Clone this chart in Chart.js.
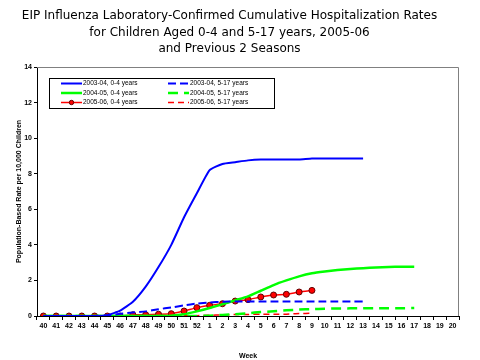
<!DOCTYPE html>
<html>
<head>
<meta charset="utf-8">
<script src="https://cdn.jsdelivr.net/npm/chart.js@4.4.1/dist/chart.umd.min.js"></script>
<style>
  html, body { margin: 0; padding: 0; background: #fff; }
  #wrap { width: 480px; height: 360px; }
</style>
</head>
<body>
<div id="wrap"><canvas id="c" width="480" height="360"></canvas></div>
<script>
'use strict';

var weeks = ['40', '41', '42', '43', '44', '45', '46', '47', '48', '49', '50', '51', '52',
    '1', '2', '3', '4', '5', '6', '7', '8', '9', '10', '11', '12', '13', '14', '15', '16', '17', '18', '19', '20'];

var yTicks = [0, 2, 4, 6, 8, 10, 12, 14];

// 2003-04 season
var s0304Young = [0, 0, 0, 0, 0, 0.05, 0.3, 0.8, 1.65, 2.75, 4.0, 5.55, 6.9,
    8.2, 8.55, 8.65, 8.75, 8.8, 8.8, 8.8, 8.8, 8.85, 8.85, 8.85, 8.85, 8.85];
var s0304Old = [0, 0, 0, 0, 0, 0.03, 0.12, 0.2, 0.26, 0.38, 0.48, 0.6, 0.7,
    0.76, 0.8, 0.82, 0.82, 0.82, 0.82, 0.82, 0.82, 0.82, 0.82, 0.82, 0.82, 0.82];

// 2004-05 season
var s0405Young = [0, 0, 0, 0, 0, 0, 0, 0, 0, 0, 0.02, 0.1, 0.26,
    0.45, 0.66, 0.88, 1.1, 1.42, 1.74, 2.0, 2.23, 2.4, 2.5, 2.58, 2.64, 2.69, 2.73, 2.76, 2.77, 2.77];
var s0405Old = [0, 0, 0, 0, 0, 0, 0, 0, 0, 0, 0, 0, 0,
    0.02, 0.06, 0.1, 0.16, 0.22, 0.27, 0.32, 0.36, 0.39, 0.41, 0.42, 0.43, 0.43, 0.44, 0.44, 0.44, 0.45];

// 2005-06 season
var s0506Young = [0, 0, 0, 0, 0, 0, 0, 0.07, 0.07, 0.1, 0.13, 0.28, 0.47,
    0.6, 0.69, 0.84, 0.92, 1.07, 1.18, 1.22, 1.35, 1.44];
var s0506Old = [0, 0, 0, 0, 0, 0, 0, 0, 0, 0, 0, 0.01, 0.02,
    0.04, 0.06, 0.08, 0.09, 0.1, 0.1, 0.1, 0.14, 0.15];

var seriesNames = ['2003-04, 0-4 years', '2003-04, 5-17 years', '2004-05, 0-4 years',
    '2004-05, 5-17 years', '2005-06, 0-4 years', '2005-06, 5-17 years'];

var FONT = '"Liberation Sans", Arial, sans-serif';

function line(label, data, color, width, dash) {
    return {
        label: label,
        data: data,
        borderColor: color,
        backgroundColor: color,
        borderWidth: width,
        borderDash: dash || [],
        pointRadius: 0,
        tension: 0.15,
        fill: false
    };
}

var datasets = [
    line(seriesNames[0], s0304Young, '#0000ff', 2),
    line(seriesNames[1], s0304Old, '#0000ff', 2, [8, 4]),
    line(seriesNames[2], s0405Young, '#00ff00', 2.5),
    line(seriesNames[3], s0405Old, '#00ff00', 2.5, [10, 6]),
    line(seriesNames[4], s0506Young, '#ff0000', 1.5),
    line(seriesNames[5], s0506Old, '#ff0000', 1.5, [6, 4])
];
datasets[4].pointRadius = 3;
datasets[4].pointBorderColor = '#600000';
datasets[4].pointBackgroundColor = '#ff0000';
datasets[4].pointBorderWidth = 1;

// frame on top/right + boxed legend in the top-left corner
var framePlugin = {
    id: 'frame',
    afterDraw: function(chart) {
        var ctx = chart.ctx;
        var a = chart.chartArea;
        ctx.save();
        ctx.strokeStyle = '#808080';
        ctx.lineWidth = 1;
        ctx.beginPath();
        ctx.moveTo(a.left, a.top + 0.5);
        ctx.lineTo(a.right - 0.5, a.top + 0.5);
        ctx.lineTo(a.right - 0.5, a.bottom);
        ctx.stroke();

        var bx = 49, by = 78, bw = 225, bh = 30;
        ctx.fillStyle = '#fff';
        ctx.fillRect(bx, by, bw, bh);
        ctx.strokeStyle = '#000';
        ctx.strokeRect(bx + 0.5, by + 0.5, bw, bh);

        ctx.font = '6.5px ' + FONT;
        ctx.textBaseline = 'middle';
        ctx.textAlign = 'left';
        chart.data.datasets.forEach(function(ds, i) {
            var col = i % 2, row = Math.floor(i / 2);
            var x0 = col === 0 ? 61 : 168;
            var y = 83.5 + row * 9.5;
            ctx.strokeStyle = ds.borderColor;
            ctx.lineWidth = ds.borderWidth;
            ctx.setLineDash(ds.borderDash);
            ctx.beginPath();
            ctx.moveTo(x0, y);
            ctx.lineTo(x0 + 21, y);
            ctx.stroke();
            ctx.setLineDash([]);
            if (ds.pointRadius) {
                ctx.beginPath();
                ctx.arc(x0 + 10.5, y, 2.2, 0, Math.PI * 2);
                ctx.fillStyle = ds.pointBackgroundColor;
                ctx.fill();
                ctx.strokeStyle = ds.pointBorderColor;
                ctx.lineWidth = 1;
                ctx.stroke();
            }
            ctx.fillStyle = '#000';
            ctx.fillText(ds.label, x0 + 22, y);
        });
        ctx.restore();
    }
};

var ctx = document.getElementById('c').getContext('2d');
new Chart(ctx, {
    type: 'line',
    data: { labels: weeks, datasets: datasets },
    options: {
        responsive: false,
        animation: false,
        layout: { padding: { left: 0, right: 21, top: 0, bottom: 0 } },
        plugins: {
            legend: { display: false },
            tooltip: { enabled: false },
            title: {
                display: true,
                text: ['EIP Influenza Laboratory-Confirmed Cumulative Hospitalization Rates',
                    'for Children Aged 0-4 and 5-17 years, 2005-06',
                    'and Previous 2 Seasons'],
                color: '#000',
                font: { family: '"DejaVu Sans", sans-serif', size: 12, weight: 'normal', lineHeight: 1.375 },
                padding: { top: 8, bottom: 9.5 }
            }
        },
        scales: {
            x: {
                offset: true,
                grid: { display: true, offset: true, drawOnChartArea: false, color: '#000', tickLength: 4 },
                border: { color: '#000', width: 1 },
                ticks: {
                    color: '#000', autoSkip: false, maxRotation: 0, padding: 2,
                    font: { family: FONT, size: 7, weight: 'bold' }
                },
                title: {
                    display: true, text: 'Week', color: '#000',
                    font: { family: FONT, size: 7, weight: 'bold' },
                    padding: { top: 18, bottom: 0 }
                },
                afterFit: function(scale) { scale.height = 44; }
            },
            y: {
                min: 0,
                max: 14,
                grid: { drawOnChartArea: false, color: '#000', tickLength: 3 },
                border: { color: '#000', width: 1 },
                afterBuildTicks: function(scale) {
                    scale.ticks = yTicks.map(function(v) { return { value: v }; });
                },
                ticks: {
                    color: '#000', padding: 2,
                    font: { family: FONT, size: 7, weight: 'bold' }
                },
                title: {
                    display: true, text: 'Population-Based Rate per 10,000 Children', color: '#000',
                    font: { family: FONT, size: 7, weight: 'bold' },
                    padding: { top: 15, bottom: 0 }
                },
                afterFit: function(scale) { scale.width = 37; }
            }
        }
    },
    plugins: [framePlugin]
});
</script>
</body>
</html>
